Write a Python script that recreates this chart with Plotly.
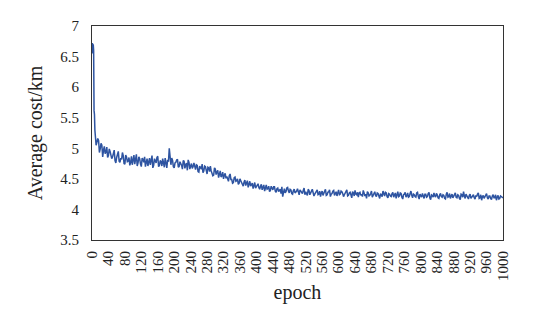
import plotly.graph_objects as go

early_epochs = [0, 1, 2, 3, 4, 5, 6, 7]
early_cost = [6.66, 6.72, 6.55, 6.70, 6.60, 5.62, 5.55, 5.30]

# readings every 4 epochs starting at epoch 8
step_epochs = list(range(8, 1001, 4))
step_cost = [
    5.22, 5.10, 5.13, 4.99, 5.05, 4.97, 4.91, 5.02, 4.88, 4.95,
    4.83, 4.92, 4.80, 4.85, 4.95, 4.77, 4.82, 4.88, 4.74, 4.86,
    4.79, 4.72, 4.87, 4.81, 4.74, 4.90, 4.76, 4.83, 4.70, 4.82,
    4.86, 4.75, 4.71, 4.84, 4.79, 4.68, 4.83, 4.76, 4.87, 4.72,
    4.78, 4.83, 4.69, 4.75, 4.81, 5.00, 4.73, 4.80, 4.68, 4.77,
    4.82, 4.70, 4.76, 4.66, 4.79, 4.73, 4.64, 4.77, 4.71, 4.67,
    4.76, 4.65, 4.72, 4.61, 4.69, 4.74, 4.63, 4.70, 4.58, 4.68,
    4.71, 4.60, 4.56, 4.66, 4.61, 4.52, 4.63, 4.55, 4.50, 4.59,
    4.54, 4.46, 4.58, 4.49, 4.44, 4.53, 4.47, 4.41, 4.50, 4.44,
    4.38, 4.48, 4.43, 4.36, 4.46, 4.40, 4.34, 4.44, 4.38, 4.42,
    4.33, 4.41, 4.36, 4.30, 4.40, 4.34, 4.29, 4.38, 4.32, 4.37,
    4.28, 4.35, 4.31, 4.26, 4.21, 4.34, 4.29, 4.36, 4.27, 4.32,
    4.25, 4.33, 4.28, 4.34, 4.24, 4.30, 4.26, 4.35, 4.29, 4.23,
    4.31, 4.26, 4.33, 4.22, 4.28, 4.32, 4.25, 4.21, 4.30, 4.27,
    4.33, 4.24, 4.29, 4.21, 4.26, 4.31, 4.27, 4.22, 4.32, 4.25,
    4.29, 4.21, 4.26, 4.32, 4.23, 4.28, 4.19, 4.27, 4.31, 4.24,
    4.20, 4.28, 4.25, 4.31, 4.22, 4.18, 4.27, 4.23, 4.30, 4.24,
    4.29, 4.21, 4.26, 4.18, 4.24, 4.30, 4.22, 4.27, 4.19, 4.25,
    4.21, 4.28, 4.24, 4.18, 4.29, 4.22, 4.26, 4.17, 4.25, 4.20,
    4.27, 4.21, 4.30, 4.19, 4.24, 4.20, 4.28, 4.17, 4.23, 4.26,
    4.18, 4.25, 4.21, 4.28, 4.16, 4.23, 4.27, 4.20, 4.24, 4.18,
    4.26, 4.20, 4.23, 4.17, 4.28, 4.21, 4.18, 4.25, 4.22, 4.27,
    4.19, 4.23, 4.16, 4.24, 4.29, 4.18, 4.22, 4.17, 4.25, 4.20,
    4.24, 4.17, 4.21, 4.27, 4.19, 4.15, 4.23, 4.20, 4.26, 4.17,
    4.22, 4.16, 4.24, 4.19, 4.15, 4.23, 4.18, 4.21, 4.19,
]

# readings in between, every 4 epochs starting at epoch 10
mid_epochs = list(range(10, 1000, 4))
mid_cost = [
    5.05, 5.16, 4.93, 5.08, 4.86, 5.03, 4.94, 4.85, 4.99, 4.90,
    4.86, 4.97, 4.76, 4.91, 4.79, 4.84, 4.93, 4.75, 4.89, 4.78,
    4.85, 4.77, 4.73, 4.89, 4.80, 4.71, 4.86, 4.74, 4.84, 4.77,
    4.70, 4.83, 4.79, 4.73, 4.88, 4.72, 4.77, 4.85, 4.70, 4.80,
    4.71, 4.76, 4.84, 4.68, 4.78, 4.79, 4.84, 4.70, 4.76, 4.81,
    4.69, 4.78, 4.72, 4.80, 4.67, 4.76, 4.81, 4.66, 4.75, 4.70,
    4.68, 4.73, 4.62, 4.71, 4.66, 4.60, 4.71, 4.64, 4.69, 4.62,
    4.63, 4.55, 4.68, 4.57, 4.64, 4.58, 4.53, 4.61, 4.56, 4.51,
    4.50, 4.55, 4.49, 4.43, 4.52, 4.46, 4.50, 4.43, 4.47, 4.40,
    4.45, 4.39, 4.47, 4.41, 4.38, 4.43, 4.39, 4.35, 4.41, 4.36,
    4.38, 4.32, 4.40, 4.35, 4.33, 4.38, 4.31, 4.35, 4.37, 4.30,
    4.34, 4.29, 4.33, 4.37, 4.30, 4.27, 4.35, 4.30, 4.33, 4.26,
    4.31, 4.27, 4.30, 4.25, 4.32, 4.27, 4.31, 4.24, 4.26, 4.33,
    4.24, 4.30, 4.27, 4.25, 4.31, 4.24, 4.30, 4.27, 4.23, 4.29,
    4.23, 4.28, 4.32, 4.25, 4.30, 4.23, 4.29, 4.26, 4.24, 4.30,
    4.26, 4.24, 4.30, 4.22, 4.27, 4.24, 4.29, 4.22, 4.25, 4.28,
    4.27, 4.23, 4.21, 4.27, 4.25, 4.29, 4.22, 4.26, 4.20, 4.27,
    4.23, 4.27, 4.22, 4.26, 4.21, 4.25, 4.28, 4.21, 4.26, 4.22,
    4.26, 4.20, 4.27, 4.23, 4.21, 4.27, 4.20, 4.24, 4.28, 4.22,
    4.20, 4.26, 4.23, 4.25, 4.21, 4.27, 4.21, 4.25, 4.20, 4.23,
    4.25, 4.20, 4.26, 4.19, 4.24, 4.20, 4.22, 4.26, 4.19, 4.24,
    4.21, 4.24, 4.18, 4.25, 4.20, 4.26, 4.22, 4.19, 4.25, 4.20,
    4.24, 4.18, 4.25, 4.20, 4.22, 4.25, 4.19, 4.23, 4.18, 4.24,
    4.19, 4.23, 4.25, 4.18, 4.24, 4.21, 4.18, 4.24, 4.19, 4.22,
    4.18, 4.22, 4.19, 4.24, 4.20, 4.17, 4.22, 4.20,
]

pairs = sorted(zip(early_epochs + step_epochs + mid_epochs,
                   early_cost + step_cost + mid_cost))
epochs = [p[0] for p in pairs]
cost = [p[1] for p in pairs]

x_ticks = list(range(0, 1001, 40))
y_ticks = [3.5, 4, 4.5, 5, 5.5, 6, 6.5, 7]
y_labels = ["3.5", "4", "4.5", "5", "5.5", "6", "6.5", "7"]

font_family = "Liberation Serif"

fig = go.Figure()
fig.add_trace(go.Scatter(
    x=epochs, y=cost, mode="lines",
    line=dict(color="#2E54A1", width=1.5),
    showlegend=False,
))

# page body has an 8px margin, so the figure is 546x313 placed at (8,8)
fig.update_layout(
    width=546, height=313,
    margin=dict(l=84, r=51, t=10, b=81),
    paper_bgcolor="white", plot_bgcolor="white",
    font=dict(family=font_family, color="#222222", size=14),
)
fig.update_xaxes(
    range=[0, 1000], tickvals=x_ticks, ticktext=[str(t) for t in x_ticks],
    tickangle=-90, tickfont=dict(size=15), ticklabelstandoff=4,
    showline=True, linecolor="#333333", linewidth=1, mirror=True,
    showgrid=False, zeroline=False, ticks="",
    title=dict(text="epoch", font=dict(size=20), standoff=4),
)
fig.update_yaxes(
    range=[3.5, 7], tickvals=y_ticks, ticktext=y_labels,
    tickfont=dict(size=15), ticklabelstandoff=9,
    showline=True, linecolor="#333333", linewidth=1, mirror=True,
    showgrid=False, zeroline=False, ticks="",
    title=dict(text="Average cost/km", font=dict(size=20), standoff=12),
)

fig.write_html("out.html")
